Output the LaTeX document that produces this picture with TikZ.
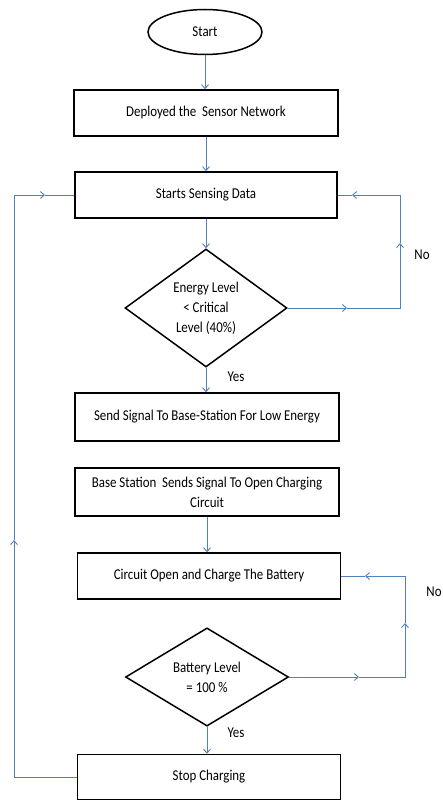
\documentclass[tikz,border=0pt]{standalone}
\usepackage{fontspec}
\setmainfont{Carlito}[FakeStretch=0.86]
\usepackage{tikz}
\usetikzlibrary{positioning,shapes.geometric,arrows.meta}
\definecolor{lineblue}{RGB}{79,129,189}

\begin{document}
\begin{tikzpicture}[x=1pt,y=-1pt,
        every node/.style={font=\fontsize{15pt}{20pt}\selectfont},
        box/.style={draw,line width=1.5pt,minimum width=264pt,minimum height=46pt,align=center,inner sep=2pt},
        decision/.style={draw,diamond,line width=1.5pt,inner sep=0pt,align=center},
        flow/.style={draw=lineblue,line width=0.9pt,-{Straight Barb[length=4pt,width=7pt]}},
        link/.style={draw=lineblue,line width=0.9pt}]
                \useasboundingbox (0,0) rectangle (443,802);
                \node[draw,ellipse,line width=1.5pt,minimum width=114pt,minimum height=45pt] (start) at (205,32) {Start};
                \node[box] (deploy) at (206,113) {Deployed the\ \ Sensor Network};
                \node[box,minimum width=262pt] (sense) at (206,195) {Starts Sensing Data};
                \node[decision,minimum width=162pt,minimum height=107pt] (energy) at (206,308) {Energy Level\\ {<} Critical\\ Level (40\%)};
                \node[box,minimum height=48pt] (signal) at (207,417) {Send Signal To Base-Station For Low Energy};
                \node[box,minimum height=48pt] (base) at (207,492) {Base Station\ \ Sends Signal To Open Charging\\ Circuit};
                \node[box,minimum width=263pt] (charge) at (209,576) {Circuit Open and Charge The Battery};
                \node[decision,minimum width=163pt,minimum height=83pt] (battery) at (207,677) {Battery Level\\ = 100 \%};
                \node[box,minimum width=263pt,minimum height=45pt] (stop) at (209,777) {Stop Charging};
                % main line
                \draw[flow] (start) -- (start |- deploy.north);
                \draw[flow] (deploy) -- (deploy |- sense.north);
                \draw[flow] (sense) -- (sense |- energy.north);
                \draw[flow] (energy.south) -- (energy.south |- signal.north);
                \draw[flow] (base.south) -- (base.south |- charge.north);
                \draw[flow] (battery.south) -- (battery.south |- stop.north);
                \node (yes1) at (236,377) {Yes};
                \node (yes2) at (236,733) {Yes};
                % no loops
                \coordinate (e1) at (347,308);
                \coordinate (e2) at (400,243);
                \coordinate (e3) at (352,195);
                \draw[flow] (energy.east) -- (e1);
                \draw[flow] (e1) -| (e2);
                \draw[flow] (e2) |- (e3);
                \draw[link] (e3) -- (sense.east);
                \node (no1) at (422,255) {No};
                \coordinate (b1) at (359,677);
                \coordinate (b2) at (405,623);
                \coordinate (b3) at (365,576);
                \draw[flow] (battery.east) -- (b1);
                \draw[flow] (b1) -| (b2);
                \draw[flow] (b2) |- (b3);
                \draw[link] (b3) -- (charge.east);
                \node (no2) at (434,592) {No};
                % back to sensing
                \coordinate (s1) at (14,540);
                \coordinate (s2) at (45,195);
                \draw[flow] (stop.west) -| (s1);
                \draw[flow] (s1) |- (s2);
                \draw[link] (s2) -- (sense.west);
            \end{tikzpicture}
\end{document}
